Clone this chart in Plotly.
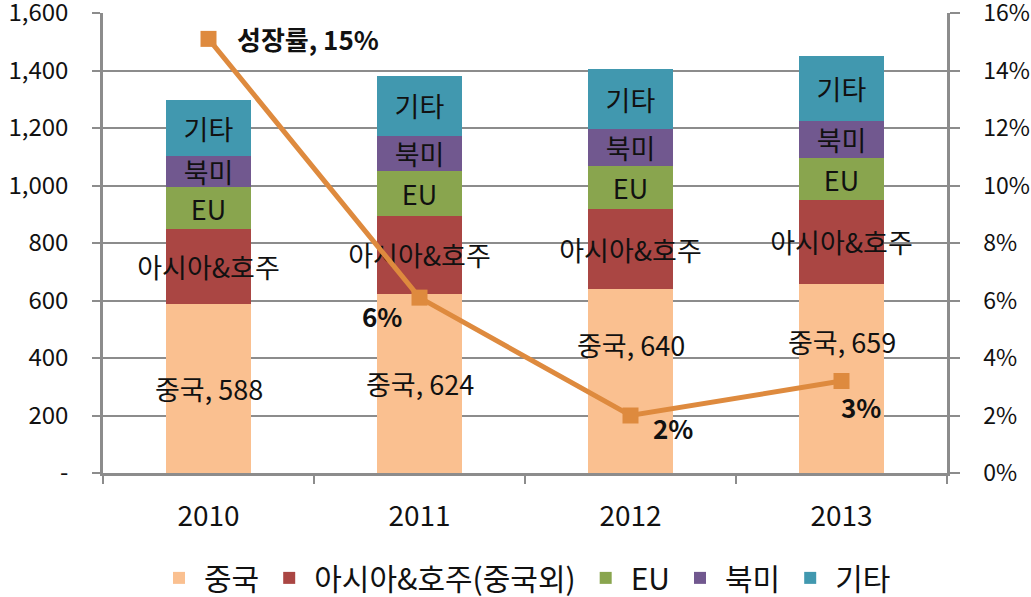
import plotly.graph_objects as go

years = [2010, 2011, 2012, 2013]
china = [588, 624, 640, 659]
asia = [260, 271, 278, 290]
eu = [146, 156, 149, 146]
namerica = [109, 122, 128, 131]
others = [193, 209, 209, 225]
growth = [15.1, 6.1, 2.0, 3.2]
growth_labels = ["성장률, 15%", "6%", "2%", "3%"]

series_names = ["중국", "아시아&호주(중국외)", "EU", "북미", "기타"]
inbar_names = ["중국", "아시아&호주", "EU", "북미", "기타"]
colors = ["#FAC090", "#AA4643", "#89A54E", "#71588F", "#4198AF"]

left_ticks = [0, 200, 400, 600, 800, 1000, 1200, 1400, 1600]
left_ticktext = ["-", "200", "400", "600", "800", "1,000", "1,200", "1,400", "1,600"]
right_ticks = [0, 2, 4, 6, 8, 10, 12, 14, 16]
right_ticktext = [f"{v}%" for v in right_ticks]

FONT = "Noto Sans CJK KR"
TXT = "#111111"
fig = go.Figure()

all_series = [china, asia, eu, namerica, others]
for i, (name, vals) in enumerate(zip(series_names, all_series)):
    if i == 0:
        texts = None  # China labels drawn as annotations below
    else:
        texts = [inbar_names[i]] * len(vals)
    fig.add_trace(go.Bar(
        x=years, y=vals, name=name, width=0.4,
        marker=dict(color=colors[i], line=dict(width=0)),
        text=texts, textposition="inside" if texts else "none",
        insidetextanchor="middle", textangle=0, constraintext="none",
        textfont=dict(family=FONT, size=27, color=TXT),
        hoverinfo="skip",
    ))

# China segment labels (centre of segment; last two lifted above the line as in the source)
china_lift = [0, 0, 37, 37]
for yr, v, dy in zip(years, china, china_lift):
    fig.add_annotation(
        x=yr, y=v / 2, xref="x", yref="y", text=f"{inbar_names[0]}, {v}",
        showarrow=False, xanchor="center", yanchor="middle", yshift=dy,
        font=dict(family=FONT, size=27, color=TXT),
    )

line_color = "#DE8A3E"
fig.add_trace(go.Scatter(
    x=years, y=growth, yaxis="y2", mode="lines+markers",
    line=dict(color=line_color, width=5),
    marker=dict(symbol="square", size=16, color=line_color),
    showlegend=False, hoverinfo="skip",
))

offsets = [(26, 0, "left"), (-38, -18, "center"), (42, -12, "center"), (19, -25, "center")]
for yr, g, lbl, (dx, dy, anc) in zip(years, growth, growth_labels, offsets):
    fig.add_annotation(
        x=yr, y=g, xref="x", yref="y2", text=f"<b>{lbl}</b>",
        showarrow=False, xanchor=anc, yanchor="middle",
        xshift=dx, yshift=dy,
        font=dict(family=FONT, size=26, color=TXT),
    )

grid_col = "#8C8C8C"
boundaries = [y - 0.5 for y in years] + [years[-1] + 0.5]
fig.update_layout(
    template="none",
    width=1031, height=597,
    margin=dict(l=103, r=84, t=13, b=124, autoexpand=False),
    paper_bgcolor="white", plot_bgcolor="white",
    barmode="stack",
    hovermode=False,
    font=dict(family=FONT, size=24, color=TXT),
    showlegend=True,
    legend=dict(orientation="h", x=0.5, xanchor="center", y=-0.228, yanchor="middle",
                traceorder="normal", bgcolor="rgba(0,0,0,0)", itemwidth=40,
                font=dict(family=FONT, size=30, color=TXT)),
    xaxis=dict(type="linear", range=[years[0] - 0.5, years[-1] + 0.5],
               tickmode="array", tickvals=years, ticktext=[str(y) for y in years],
               showline=True, linecolor=grid_col, linewidth=2.5,
               ticks="", showgrid=False, zeroline=False, automargin=False,
               ticklabelstandoff=17,
               minor=dict(tickmode="array", tickvals=boundaries, ticks="outside",
                          ticklen=8, tickcolor=grid_col, tickwidth=2, showgrid=False),
               tickfont=dict(family=FONT, size=28, color=TXT)),
    yaxis=dict(type="linear", range=[0, 1600], tickmode="array",
               tickvals=left_ticks, ticktext=left_ticktext,
               showline=True, linecolor=grid_col, linewidth=2.5,
               ticks="outside", ticklen=8, tickcolor=grid_col, tickwidth=2,
               showgrid=True, gridcolor=grid_col, gridwidth=1.5, zeroline=False,
               automargin=False, ticklabelstandoff=19, ticklabeloverflow="allow",
               tickfont=dict(family=FONT, size=24, color=TXT)),
    yaxis2=dict(type="linear", range=[0, 16], tickmode="array",
                tickvals=right_ticks, ticktext=right_ticktext,
                overlaying="y", side="right",
                showline=True, linecolor=grid_col, linewidth=2.5,
                ticks="outside", ticklen=10, tickcolor=grid_col, tickwidth=2,
                showgrid=False, zeroline=False, automargin=False,
                ticklabelstandoff=19, ticklabeloverflow="allow",
                tickfont=dict(family=FONT, size=23, color=TXT)),
)

fig.write_html("out.html", config={"displayModeBar": False},
               post_script="document.body.style.margin='0px';document.body.style.overflow='hidden';")
